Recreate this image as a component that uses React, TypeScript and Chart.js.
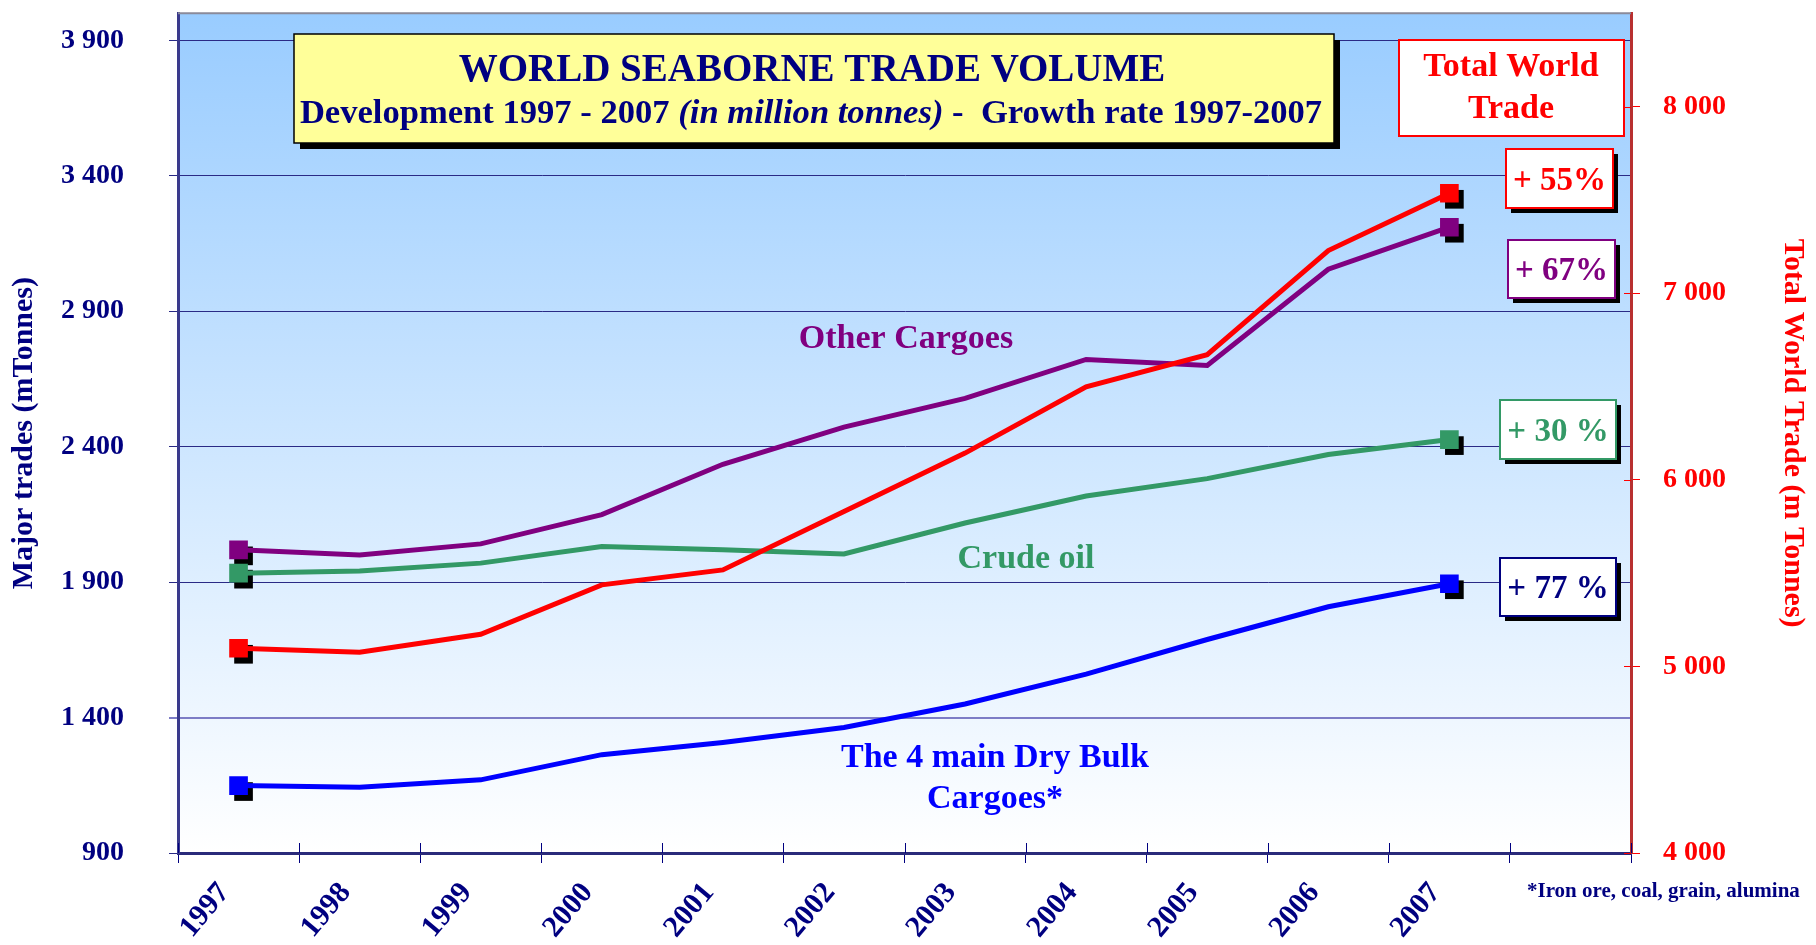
import React, { useEffect, useRef } from 'react';
import { Chart, registerables } from 'chart.js';
Chart.register(...registerables);

const years = ['1997', '1998', '1999', '2000', '2001', '2002', '2003', '2004', '2005', '2006', '2007'];
const xLabels = [...years, ''];
const dryBulk = [1149, 1143, 1170, 1263, 1308, 1363, 1450, 1560, 1688, 1809, 1894];
const crudeOil = [1933, 1941, 1970, 2031, 2019, 2004, 2118, 2218, 2282, 2371, 2426];
const otherCargoes = [2019, 2000, 2041, 2149, 2335, 2472, 2578, 2722, 2700, 3055, 3210];
const totalTrade = [5097, 5076, 5172, 5437, 5517, 5830, 6143, 6498, 6670, 7228, 7535];
const leftTicks = [900, 1400, 1900, 2400, 2900, 3400, 3900];
const rightTicks = [4000, 5000, 6000, 7000, 8000];
const growthTotal = '+ 55%';
const growthOther = '+ 67%';
const growthCrude = '+ 30 %';
const growthDry = '+ 77 %';

const SERIF = '"Liberation Serif", "Times New Roman", serif';
const NAVY = '#000080';
const RED = '#FF0000';
const PURPLE = '#800080';
const GREEN = '#339966';
const BLUE = '#0000FF';

const fmt = (v: number) => String(v).replace(/\B(?=(\d{3})+(?!\d))/g, ' ');
const endRadius = years.map((_, i) => (i === 0 || i === years.length - 1 ? 13.2 : 0));

function drawBox(ctx: CanvasRenderingContext2D, x: number, y: number, w: number, h: number, stroke: string, shadow: number, fill = '#FFFFFF', lw = 2) {
  if (shadow) {
    ctx.fillStyle = '#000000';
    ctx.fillRect(x + shadow, y + shadow, w, h);
  }
  ctx.fillStyle = fill;
  ctx.fillRect(x, y, w, h);
  ctx.strokeStyle = stroke;
  ctx.lineWidth = lw;
  ctx.strokeRect(x, y, w, h);
}

function text(ctx: CanvasRenderingContext2D, s: string, x: number, y: number, size: number, color: string, align: CanvasTextAlign = 'center') {
  ctx.font = `bold ${size}px ${SERIF}`;
  ctx.fillStyle = color;
  ctx.textAlign = align;
  ctx.textBaseline = 'alphabetic';
  ctx.fillText(s, x, y);
}

const bgPlugin = {
  id: 'bg',
  beforeDraw(chart: any) {
    const { ctx, chartArea: a } = chart;
    ctx.save();
    ctx.fillStyle = '#FFFFFF';
    ctx.fillRect(0, 0, chart.width, chart.height);
    const g = ctx.createLinearGradient(0, a.top, 0, a.bottom);
    g.addColorStop(0, '#99CCFF');
    g.addColorStop(1, '#FFFFFF');
    ctx.fillStyle = g;
    ctx.fillRect(a.left, a.top, a.right - a.left, a.bottom - a.top);
    ctx.restore();
  },
  beforeDatasetsDraw(chart: any) {
    const { ctx } = chart;
    ctx.save();
    ctx.fillStyle = '#000000';
    chart.getSortedVisibleDatasetMetas().forEach((meta: any) => {
      meta.data.forEach((el: any) => {
        const r = el.options.radius;
        if (r > 0) {
          const s = Math.SQRT1_2 * r;
          ctx.fillRect(el.x - s + 5, el.y - s + 6, 2 * s, 2 * s);
        }
      });
    });
    ctx.restore();
  },
  afterDraw(chart: any) {
    const { ctx, chartArea: a } = chart;
    ctx.save();
    // top border
    ctx.strokeStyle = '#8a8a9a';
    ctx.lineWidth = 2;
    ctx.beginPath();
    ctx.moveTo(a.left, a.top);
    ctx.lineTo(a.right, a.top);
    ctx.stroke();
    // inner tick stubs on x axis
    const xs = chart.scales.x;
    const step = xs.getPixelForTick(1) - xs.getPixelForTick(0);
    ctx.strokeStyle = NAVY;
    ctx.lineWidth = 1;
    for (let i = 0; i <= xLabels.length; i++) {
      const px = Math.round(xs.getPixelForTick(0) - step / 2 + i * step) + 0.5;
      ctx.beginPath();
      ctx.moveTo(px, a.bottom);
      ctx.lineTo(px, a.bottom - 10);
      ctx.stroke();
    }
    const y1 = chart.scales.y1;
    ctx.strokeStyle = RED;
    rightTicks.forEach((v) => {
      const py = Math.round(y1.getPixelForValue(v)) + 0.5;
      ctx.beginPath();
      ctx.moveTo(a.right - 7, py);
      ctx.lineTo(a.right, py);
      ctx.stroke();
    });

    // Title box
    drawBox(ctx, 294, 34, 1040, 109, '#000000', 6, '#FFFF99', 1.5);
    text(ctx, 'WORLD SEABORNE TRADE VOLUME', 812, 81, 39, NAVY);
    const p1 = 'Development 1997 - 2007 ';
    const p2 = '(in million tonnes)';
    const p3 = ' -  Growth rate 1997-2007';
    const sz = 34.6;
    ctx.font = `bold ${sz}px ${SERIF}`;
    const w1 = ctx.measureText(p1).width;
    const w3 = ctx.measureText(p3).width;
    ctx.font = `italic bold ${sz}px ${SERIF}`;
    const w2 = ctx.measureText(p2).width;
    const sx = 811 - (w1 + w2 + w3) / 2;
    text(ctx, p1, sx, 123, sz, NAVY, 'left');
    ctx.font = `italic bold ${sz}px ${SERIF}`;
    ctx.fillText(p2, sx + w1, 123);
    text(ctx, p3, sx + w1 + w2, 123, sz, NAVY, 'left');

    // Total World Trade box
    drawBox(ctx, 1399, 40, 225, 96, RED, 0);
    text(ctx, 'Total World', 1511, 76, 34, RED);
    text(ctx, 'Trade', 1511, 118, 34, RED);

    // growth boxes
    drawBox(ctx, 1506, 149, 107, 59, RED, 5);
    text(ctx, growthTotal, 1559.5, 190, 33, RED);
    drawBox(ctx, 1508, 240, 107, 58, PURPLE, 5);
    text(ctx, growthOther, 1561.5, 280, 33, PURPLE);
    drawBox(ctx, 1500, 400, 116, 59, GREEN, 5);
    text(ctx, growthCrude, 1558, 441, 33, GREEN);
    drawBox(ctx, 1500, 558, 116, 58, NAVY, 5);
    text(ctx, growthDry, 1558, 598, 33, NAVY);

    // series labels
    text(ctx, 'Other Cargoes', 906, 348, 34, PURPLE);
    text(ctx, 'Crude oil', 1026, 568, 34, GREEN);
    text(ctx, 'The 4 main Dry Bulk', 995, 767, 34, BLUE);
    text(ctx, 'Cargoes*', 995, 808, 34, BLUE);

    text(ctx, '*Iron ore, coal, grain, alumina', 1527, 897, 21, NAVY, 'left');
    ctx.restore();
  },
};

export default function App() {
  const ref = useRef<HTMLCanvasElement | null>(null);
  useEffect(() => {
    if (!ref.current) return;
    const lineDs = (label: string, data: number[], color: string, axis: string, order: number) => ({
      label,
      data,
      yAxisID: axis,
      borderColor: color,
      backgroundColor: color,
      borderWidth: 5,
      tension: 0,
      pointStyle: 'rect',
      pointRadius: endRadius,
      pointHoverRadius: endRadius,
      pointBorderWidth: 0,
      order,
    });
    const chart = new Chart(ref.current, {
      type: 'line',
      data: {
        labels: xLabels,
        datasets: [
          lineDs('Total World Trade', totalTrade, RED, 'y1', 0),
          lineDs('Other Cargoes', otherCargoes, PURPLE, 'y', 1),
          lineDs('Crude oil', crudeOil, GREEN, 'y', 2),
          lineDs('The 4 main Dry Bulk Cargoes', dryBulk, BLUE, 'y', 3),
        ],
      },
      options: {
        animation: false,
        responsive: false,
        devicePixelRatio: 1,
        layout: { padding: { top: 7, left: 0, right: 0, bottom: 0 } },
        plugins: { legend: { display: false }, tooltip: { enabled: false } },
        scales: {
          x: {
            type: 'category',
            offset: true,
            grid: { display: true, drawOnChartArea: false, offset: true, tickLength: 10, color: NAVY, lineWidth: 1 },
            border: { display: true, color: '#2a2a7a', width: 3 },
            ticks: {
              autoSkip: false,
              maxRotation: 50,
              minRotation: 50,
              padding: 13,
              labelOffset: -14,
              color: NAVY,
              font: { family: SERIF, size: 30, weight: 'bold' },
            },
            afterFit: (s: any) => {
              s.height = 92;
              s.paddingLeft = 0;
              s.paddingRight = 0;
            },
          },
          y: {
            type: 'linear',
            position: 'left',
            min: 900,
            max: 4000,
            afterBuildTicks: (s: any) => {
              s.ticks = leftTicks.map((v) => ({ value: v }));
            },
            afterFit: (s: any) => {
              s.width = 178;
              s.paddingTop = 0;
              s.paddingBottom = 0;
            },
            grid: {
              drawOnChartArea: true,
              tickLength: 9,
              color: (c: any) => (c.tick && c.tick.value === 1400 ? '#7d7dc6' : '#2a2a86'),
              lineWidth: (c: any) => (c.tick && c.tick.value === 1400 ? 2 : 1),
            },
            border: { display: true, color: '#3a3a8c', width: 3 },
            ticks: {
              padding: 45,
              color: NAVY,
              font: { family: SERIF, size: 28, weight: 'bold' },
              callback: (v: any) => fmt(Number(v)),
            },
            title: {
              display: true,
              text: 'Major trades (mTonnes)',
              color: NAVY,
              font: { family: SERIF, size: 30, weight: 'bold' },
              padding: { top: 6, bottom: 0 },
            },
          },
          y1: {
            type: 'linear',
            position: 'right',
            min: 4000,
            max: 8500,
            afterBuildTicks: (s: any) => {
              s.ticks = rightTicks.map((v) => ({ value: v }));
            },
            afterFit: (s: any) => {
              s.width = 185;
              s.paddingTop = 0;
              s.paddingBottom = 0;
            },
            grid: { drawOnChartArea: false, tickLength: 9, color: RED, lineWidth: 1 },
            border: { display: true, color: '#b83030', width: 3 },
            ticks: {
              padding: 23,
              color: RED,
              font: { family: SERIF, size: 28, weight: 'bold' },
              callback: (v: any) => fmt(Number(v)),
            },
            title: {
              display: true,
              text: 'Total World Trade (m Tonnes)',
              color: RED,
              font: { family: SERIF, size: 30, weight: 'bold' },
              padding: { top: 5, bottom: 0 },
            },
          },
        },
      },
      plugins: [bgPlugin],
    } as any);
    return () => chart.destroy();
  }, []);
  return (
    <div style={{ position: 'fixed', left: 0, top: 0, width: 1816, height: 945 }}>
      <canvas ref={ref} width={1816} height={945} style={{ display: 'block', width: 1816, height: 945 }} />
    </div>
  );
}
